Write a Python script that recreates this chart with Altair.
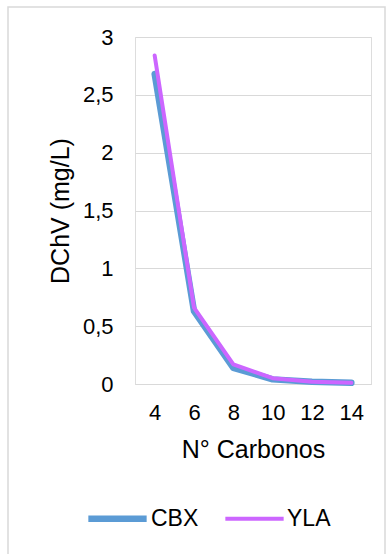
import altair as alt
import pandas as pd

carbonos = [4, 6, 8, 10, 12, 14]
cbx = [2.68, 0.63, 0.14, 0.04, 0.02, 0.01]
yla = [2.84, 0.66, 0.17, 0.05, 0.02, 0.01]
series = ["CBX", "YLA"]

rows = []
for name, vals in zip(series, [cbx, yla]):
    for c, v in zip(carbonos, vals):
        rows.append({"c": str(c), "v": v, "s": name})
df = pd.DataFrame(rows)

FONT = "Liberation Sans"

leg = dict(orient="none", legendX=-50, legendY=449,
           direction="horizontal", symbolType="stroke",
           symbolSize=3400, labelFontSize=23,
           labelColor="#000", columnPadding=18,
           labelOffset=1, title=None)

lines = alt.Chart(df).mark_line(strokeCap="round", strokeJoin="round").encode(
    x=alt.X("c:N", sort=[str(c) for c in carbonos], title="N° Carbonos",
            scale=alt.Scale(paddingInner=0, paddingOuter=0.5),
            axis=alt.Axis(labelAngle=0, ticks=False, domain=True, domainColor="#D9D9D9",
                          labelFontSize=22, titleFontSize=25, labelPadding=18,
                          titlePadding=14, labelColor="#000", titleColor="#000",
                          titleFontWeight="normal", grid=False)),
    y=alt.Y("v:Q", title="DChV (mg/L)",
            scale=alt.Scale(domain=[0, 3], nice=False),
            axis=alt.Axis(values=[0, 0.5, 1, 1.5, 2, 2.5, 3], ticks=False, domain=False,
                          labelExpr="replace(format(datum.value, '~g'), '.', ',')",
                          labelFontSize=22, titleFontSize=25, labelPadding=22,
                          titlePadding=9, gridColor="#D9D9D9", labelColor="#000",
                          titleColor="#000", titleFontWeight="normal")),
    color=alt.Color("s:N", title=None,
                    scale=alt.Scale(domain=series, range=["#5B9BD5", "#CC66FF"]),
                    legend=alt.Legend(**leg)),
    strokeWidth=alt.StrokeWidth("s:O", title=None,
                                scale=alt.Scale(domain=series, range=[6.5, 4]),
                                legend=alt.Legend(**leg)),
)

border = alt.Chart(alt.Data(values=[{}])).mark_rect(
    fill=None, stroke="#D9D9D9", strokeWidth=1.5
).encode(
    x=alt.value(-127), x2=alt.value(250), y=alt.value(-30), y2=alt.value(525)
)

chart = alt.layer(border, lines).properties(
    width=236, height=347,
    autosize=alt.AutoSizeParams(type="none"),
    padding={"left": 135, "top": 37, "right": 19, "bottom": 170},
).configure_view(stroke=None).configure(font=FONT, background="white")

chart.save("out.html", embed_options={"renderer": "svg", "actions": False})
